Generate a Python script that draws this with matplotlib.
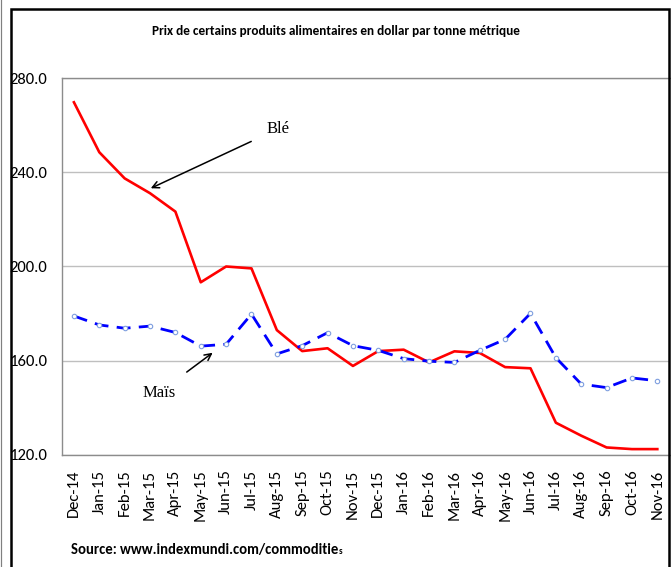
import matplotlib
matplotlib.use('Agg')
import matplotlib.pyplot as plt
from matplotlib.patches import Rectangle

# Monthly prices, USD per metric ton
months = ['Dec-14', 'Jan-15', 'Feb-15', 'Mar-15', 'Apr-15', 'May-15', 'Jun-15', 'Jul-15',
          'Aug-15', 'Sep-15', 'Oct-15', 'Nov-15', 'Dec-15', 'Jan-16', 'Feb-16', 'Mar-16',
          'Apr-16', 'May-16', 'Jun-16', 'Jul-16', 'Aug-16', 'Sep-16', 'Oct-16', 'Nov-16']
ble = [269.7, 248.5, 237.4, 231.1, 223.3, 193.3, 200.0, 199.2,
       173.0, 164.1, 165.3, 157.8, 164.1, 164.7, 159.3, 164.0,
       163.3, 157.3, 156.8, 133.7, 128.2, 123.2, 122.5, 122.5]
mais = [179.0, 175.2, 173.8, 174.7, 172.0, 166.2, 167.0, 179.8,
        162.9, 166.4, 171.9, 166.4, 164.4, 160.9, 159.8, 159.3,
        164.4, 169.1, 180.1, 161.3, 150.1, 148.6, 152.7, 151.5]
yticks = [120, 160, 200, 240, 280]

sans = ['Carlito', 'DejaVu Sans']
serif = ['Liberation Serif', 'DejaVu Serif']

fig = plt.figure(figsize=(6.71, 5.67), dpi=100)
ax = fig.add_axes([62 / 671, 1 - 455 / 567, 608 / 671, 377 / 567])

x = range(len(months))
ax.plot(x, ble, color='#ff0000', lw=1.9, zorder=3)
ax.plot(x, mais, color='#0000ff', lw=2.0, dashes=(5, 3), zorder=3,
        marker='o', ms=3.2, mfc='white', mec='#7f9fdf', mew=0.8)

ax.set_xlim(-0.47, 23.5)
ax.set_ylim(120, 280)
ax.set_yticks(yticks)
ax.set_yticklabels([f'{v:.1f}' for v in yticks], family=sans, fontsize=12)
ax.set_xticks(list(x))
ax.set_xticklabels(months, rotation=90, family=sans, fontsize=12)
ax.tick_params(length=0)
ax.tick_params(axis='y', pad=10.5)
ax.tick_params(axis='x', pad=10.5)

ax.grid(axis='y', color='#bfbfbf', lw=1.0)
ax.set_axisbelow(True)
for side in ['left', 'bottom', 'top']:
    ax.spines[side].set_color('#8c8c8c')
    ax.spines[side].set_linewidth(1.0)
ax.spines['right'].set_visible(False)

# Series labels with arrows
ax.annotate('Blé', xy=(3.03, 233.2), xytext=(8.05, 258.4), family=serif, fontsize=12,
            ha='center', va='center',
            arrowprops=dict(arrowstyle='->', color='black', lw=1.1, shrinkA=10, shrinkB=0))
ax.annotate('Maïs', xy=(5.47, 163.4), xytext=(3.35, 146.4), family=serif, fontsize=12,
            ha='center', va='center',
            arrowprops=dict(arrowstyle='->', color='black', lw=1.1, shrinkA=12, shrinkB=0))

fig.text(336 / 671, 1 - 31 / 567, 'Prix de certains produits alimentaires en dollar par tonne métrique',
         ha='center', va='center', family=sans, fontsize=9.5, fontweight='bold')
src = fig.text(71 / 671, 1 - 550 / 567, 'Source: www.indexmundi.com/commoditie',
               ha='left', va='center', family=sans, fontsize=10.5, fontweight='bold')
ax.annotate('s', xy=(1, 0), xycoords=src, xytext=(0.3, 0.5), textcoords='offset points',
            ha='left', va='bottom', family=sans, fontsize=6.5, fontweight='bold')

# Outer frame of the chart
fig.patches.append(Rectangle((10.5 / 671, -0.05), 658.5 / 671, 1.05 - 8.5 / 567,
                             transform=fig.transFigure, fill=False, ec='black', lw=1.8))
fig.patches.append(Rectangle((0.5 / 671, -0.05), 0, 1.1,
                             transform=fig.transFigure, fill=False, ec='#808080', lw=0.8))

fig.savefig('out.png', dpi=100)
